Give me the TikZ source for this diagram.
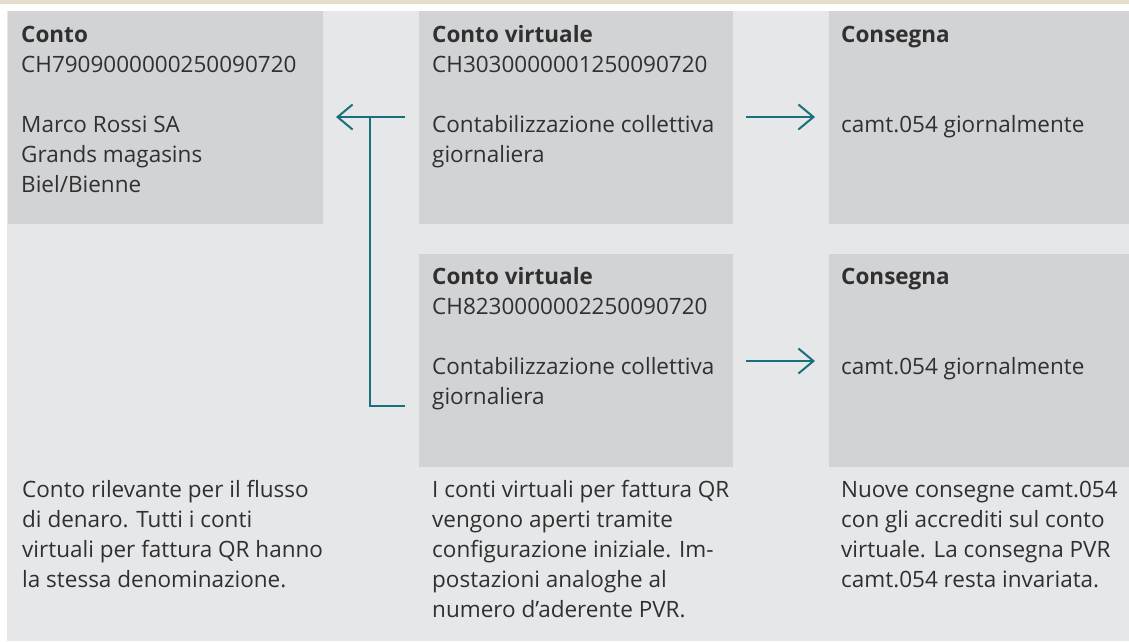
\documentclass[tikz,border=0pt]{standalone}
\usepackage{fontspec}
\setmainfont{Open Sans}
\usetikzlibrary{arrows.meta,positioning}
\definecolor{pnl}{HTML}{E6E7E9}
\definecolor{boxgr}{HTML}{D2D3D5}
\definecolor{band}{HTML}{E5DECD}
\definecolor{ink}{HTML}{303030}
\definecolor{petrol}{HTML}{17707B}
\newcommand{\lines}[1]{\begin{tabular}[t]{@{}l@{}}#1\end{tabular}}
\tikzset{
  acct/.style={fill=boxgr, inner sep=0pt, outer sep=0pt, anchor=north west, minimum height=213pt},
  txt/.style={anchor=base west, inner sep=0pt, text=ink, font=\fontsize{22.5}{30}\selectfont},
  flow/.style={draw=petrol, line width=2pt, -{Straight Barb[length=15pt,width=25pt]}},
  link/.style={draw=petrol, line width=2pt},
}

\begin{document}
\begin{tikzpicture}[x=1pt,y=-1pt]
  % canvas
  \useasboundingbox (0,0) rectangle (1129,641);
  \fill[white] (0,0) rectangle (1129,641);
  \fill[band] (0,0) rectangle (1129,4);
  \fill[pnl] (7,11) rectangle (1129,641);
  % boxes
  \node[acct, minimum width=315pt] (konto) at (8,11) {};
  \node[acct, minimum width=314pt] (virt1) at (419,11) {};
  \node[acct, minimum width=300pt] (cons1) at (829,11) {};
  \node[acct, minimum width=314pt] (virt2) at (419,254) {};
  \node[acct, minimum width=300pt] (cons2) at (829,254) {};
  % box texts
  \node[txt] (kontoT) at ([xshift=13pt,yshift=-31pt]konto.north west)
    {\lines{\textbf{Conto}\\CH7909000000250090720\\ \\Marco Rossi SA\\Grands magasins\\Biel/Bienne}};
  \node[txt] (virt1T) at ([xshift=13pt,yshift=-31pt]virt1.north west)
    {\lines{\textbf{Conto virtuale}\\CH3030000001250090720\\ \\Contabilizzazione collettiva\\giornaliera}};
  \node[txt] (cons1T) at ([xshift=12pt,yshift=-31pt]cons1.north west)
    {\lines{\textbf{Consegna}\\ \\ \\camt.054 giornalmente}};
  \node[txt] (virt2T) at ([xshift=13pt,yshift=-30pt]virt2.north west)
    {\lines{\textbf{Conto virtuale}\\CH8230000002250090720\\ \\Contabilizzazione collettiva\\giornaliera}};
  \node[txt] (cons2T) at ([xshift=12pt,yshift=-30pt]cons2.north west)
    {\lines{\textbf{Consegna}\\ \\ \\camt.054 giornalmente}};
  % arrows
  \coordinate (j) at ([xshift=-49pt,yshift=-106pt]virt1.north west);
  \draw[flow, shorten <=14pt, shorten >=13pt] ([yshift=-106pt]virt1.north west) -- ([yshift=-106pt]konto.north east);
  \draw[link] ([xshift=-14pt,yshift=-152pt]virt2.north west) -| (j);
  \draw[flow, shorten <=13pt, shorten >=14pt] ([yshift=-106pt]virt1.north east) -- ([yshift=-106pt]cons1.north west);
  \draw[flow, shorten <=13pt, shorten >=14pt] ([yshift=-107pt]virt2.north east) -- ([yshift=-107pt]cons2.north west);
  % notes
  \node[txt] (noteK) at (22,497)
    {\lines{Conto rilevante per il flusso\\di denaro. Tutti i conti\\virtuali per fattura QR hanno\\la stessa denominazione.}};
  \node[txt] (noteV) at (432,497)
    {\lines{I conti virtuali per fattura QR\\vengono aperti tramite\\configurazione iniziale. Im-\\postazioni analoghe al\\numero d’aderente PVR.}};
  \node[txt] (noteC) at (841,497)
    {\lines{Nuove consegne camt.054\\con gli accrediti sul conto\\virtuale. La consegna PVR\\camt.054 resta invariata.}};
\end{tikzpicture}
\end{document}
